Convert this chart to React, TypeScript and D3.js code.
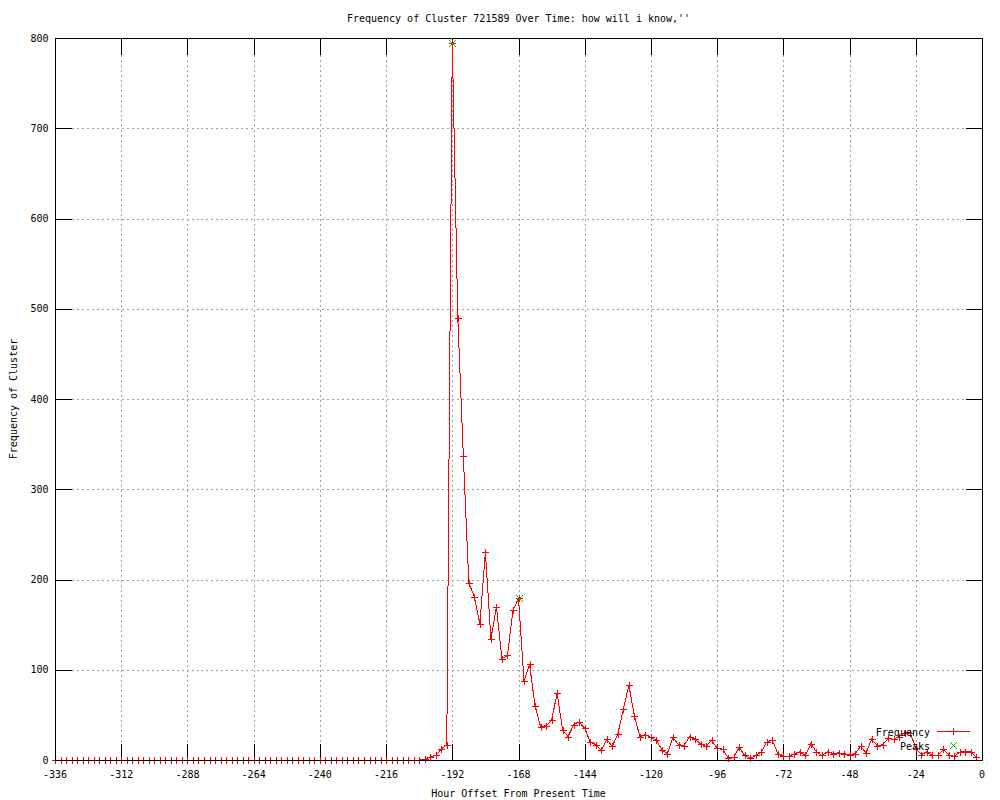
import React from 'react';
import * as d3 from 'd3';

const TITLE = "Frequency of Cluster 721589 Over Time: how will i know,''";
const X_LABEL = 'Hour Offset From Present Time';
const Y_LABEL = 'Frequency of Cluster';

const xTicks = [-336, -312, -288, -264, -240, -216, -192, -168, -144, -120, -96, -72, -48, -24, 0];
const yTicks = [0, 100, 200, 300, 400, 500, 600, 700, 800];

// hours -336, -334, ..., -2
const hours = d3.range(-336, 0, 2);
const frequency = [
  0, 0, 0, 0, 0, 0, 0, 0, 0, 0,
  0, 0, 0, 0, 0, 0, 0, 0, 0, 0,
  0, 0, 0, 0, 0, 0, 0, 0, 0, 0,
  0, 0, 0, 0, 0, 0, 0, 0, 0, 0,
  0, 0, 0, 0, 0, 0, 0, 0, 0, 0,
  0, 0, 0, 0, 0, 0, 0, 0, 0, 0,
  0, 0, 0, 0, 0, 0, 0,
  1, 3, 5, 12, 17,
  795, 490, 337, 196, 181, 151, 230, 134, 170, 112,
  116, 166, 179, 87, 106, 60, 37, 38, 44, 74,
  33, 26, 39, 42, 35, 20, 17, 11, 23, 15,
  29, 56, 83, 49, 26, 28, 25, 22, 11, 7,
  25, 17, 16, 26, 23, 18, 15, 22, 13, 12,
  2, 3, 14, 5, 2, 5, 9, 20, 22, 7,
  4, 4, 7, 9, 5, 18, 9, 5, 9, 7,
  8, 7, 6, 7, 15, 8, 23, 16, 17, 24,
  23, 26, 30, 30, 13, 6, 9, 5, 5, 12,
  6, 4, 9, 9, 9, 3,
];
const peakHours = [-192, -168];
const peakValues = [795, 179];

const W = 1000;
const H = 800;
const L = 55;
const R = 982;
const T = 38;
const B = 760;
const TIC = 16.5;
const FONT = '"DejaVu Sans Mono", monospace';
const RED = '#ff0000';
const GREEN = '#00c000';

const px = (v: number) => Math.round(v) + 0.5;

function plusPath(x: number, y: number, s: number) {
  const cx = px(x), cy = px(y);
  return `M${cx - s},${cy}H${cx + s}M${cx},${cy - s}V${cy + s}`;
}
function xPath(x: number, y: number, s: number) {
  const cx = px(x), cy = px(y);
  return `M${cx - s},${cy - s}L${cx + s},${cy + s}M${cx - s},${cy + s}L${cx + s},${cy - s}`;
}

export default function App() {
  const x = d3.scaleLinear().domain([-336, 0]).range([L, R]);
  const y = d3.scaleLinear().domain([0, 800]).range([B, T]);

  const pts = hours.map((h, i) => [x(h), y(frequency[i])] as [number, number]);
  const line = d3.line<[number, number]>().x((d) => d[0]).y((d) => d[1]);

  const markers = pts.map((p) => plusPath(p[0], p[1], 3.5)).join('');
  const peakMarks = peakHours.map((h, i) => xPath(x(h), y(peakValues[i]), 3.5)).join('');

  const cx = (L + R) / 2;

  return (
    <svg
      width={W}
      height={H}
      style={{ position: 'absolute', left: 0, top: 0, display: 'block', background: '#fff' }}
      fontFamily={FONT}
      fontSize={10}
    >
      <rect x={0} y={0} width={W} height={H} fill="#fff" />
      {/* grid */}
      <g stroke="#a0a0a0" strokeWidth={1} strokeDasharray="2,3" shapeRendering="crispEdges">
        {xTicks
          .filter((t) => t !== -336 && t !== 0)
          .map((t) => (
            <line key={'gx' + t} x1={px(x(t))} x2={px(x(t))} y1={T + TIC} y2={B - TIC} />
          ))}
        {yTicks
          .filter((t) => t !== 0 && t !== 800)
          .map((t) => (
            <line key={'gy' + t} x1={L + TIC} x2={R - TIC} y1={px(y(t))} y2={px(y(t))} />
          ))}
      </g>
      {/* ticks */}
      <g stroke="#000" strokeWidth={1} shapeRendering="crispEdges">
        {xTicks.map((t) => (
          <g key={'tx' + t}>
            <line x1={px(x(t))} x2={px(x(t))} y1={B} y2={B - TIC} />
            <line x1={px(x(t))} x2={px(x(t))} y1={T} y2={T + TIC} />
          </g>
        ))}
        {yTicks.map((t) => (
          <g key={'ty' + t}>
            <line x1={L} x2={L + TIC} y1={px(y(t))} y2={px(y(t))} />
            <line x1={R} x2={R - TIC} y1={px(y(t))} y2={px(y(t))} />
          </g>
        ))}
      </g>
      {/* data */}
      <path d={line(pts) || ''} fill="none" stroke={RED} strokeWidth={1} shapeRendering="crispEdges" />
      <path d={markers} fill="none" stroke={RED} strokeWidth={1} shapeRendering="crispEdges" />
      {/* border */}
      <rect
        x={px(L)}
        y={px(T)}
        width={Math.round(R) - Math.round(L)}
        height={Math.round(B) - Math.round(T)}
        fill="none"
        stroke="#000"
        strokeWidth={1}
        shapeRendering="crispEdges"
      />
      <path d={peakMarks} fill="none" stroke={GREEN} strokeWidth={1} shapeRendering="crispEdges" />
      {/* tick labels */}
      <g fill="#000">
        {xTicks.map((t) => (
          <text key={'lx' + t} x={x(t)} y={777.5} textAnchor="middle">
            {t === 0 ? '0' : `-${Math.abs(t)}`}
          </text>
        ))}
        {yTicks.map((t) => (
          <text key={'ly' + t} x={48.5} y={y(t) + 3.7} textAnchor="end">
            {t}
          </text>
        ))}
      </g>
      {/* titles */}
      <text x={cx} y={22} textAnchor="middle" fill="#000">
        {TITLE}
      </text>
      <text x={cx} y={797} textAnchor="middle" fill="#000">
        {X_LABEL}
      </text>
      <text transform={`translate(17,${(T + B) / 2}) rotate(-90)`} textAnchor="middle" fill="#000">
        {Y_LABEL}
      </text>
      {/* legend */}
      <g>
        <text x={930} y={735.5} textAnchor="end" fill="#000">
          Frequency
        </text>
        <path d="M937,731.5H970" stroke={RED} strokeWidth={1} fill="none" shapeRendering="crispEdges" />
        <path d={plusPath(953, 731, 3.5)} stroke={RED} strokeWidth={1} fill="none" shapeRendering="crispEdges" />
        <text x={930} y={749.5} textAnchor="end" fill="#000">
          Peaks
        </text>
        <path d={xPath(953, 745, 3.5)} stroke={GREEN} strokeWidth={1} fill="none" shapeRendering="crispEdges" />
      </g>
    </svg>
  );
}
